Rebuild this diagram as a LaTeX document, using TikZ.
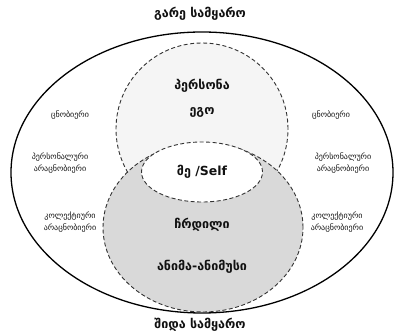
\documentclass[tikz,border=0pt]{standalone}
\usepackage{fontspec}
\setmainfont{DejaVu Sans}
\usepackage{xcolor}
\usepackage{tikz}
\usetikzlibrary{positioning,shapes.geometric}
\definecolor{PersonaFill}{HTML}{F5F5F5}
\definecolor{ShadowFill}{HTML}{D9D9D9}
\definecolor{TextDark}{HTML}{111111}

\begin{document}
\begin{tikzpicture}[x=1pt,y=-1pt,
          every node/.style={text=TextDark},
          zone/.style={draw=black!80,dash pattern=on 4pt off 2.5pt,line width=0.9pt,inner sep=0pt},
          main/.style={font=\fontsize{12.5}{14}\selectfont\bfseries},
          side/.style={font=\fontsize{8}{12}\selectfont,align=center}]
        \useasboundingbox (0,0) rectangle (396,336);
        \node[ellipse, draw, line width=1.3pt, minimum width=382pt, minimum height=281pt,
          inner sep=0pt] (world) at (202,172.5) {};
        \node[circle, zone, fill=PersonaFill, minimum size=172pt] (persona) at (202,129) {};
        % side labels
        \node[side] (lcon) at (70,115) {ცნობიერი};
        \node[side] (lpers) at (60,163.5) {პერსონალური\\არაცნობიერი};
        \node[side] (lcol) at (70,222) {კოლექტიური\\არაცნობიერი};
        \node[side] (rcon) at (331,115) {ცნობიერი};
        \node[side] (rpers) at (343,163.5) {პერსონალური\\არაცნობიერი};
        \node[side] (rcol) at (337,222) {კოლექტიური\\არაცნობიერი};
        \node[ellipse, zone, fill=ShadowFill, minimum width=200pt, minimum height=169pt]
          (shadow) at (203,227.5) {};
        \node[ellipse, zone, fill=white, minimum width=121pt, minimum height=60pt]
          (self) at (202,172) {};
        % texts
        \node[main] (outer) at (200,14) {გარე სამყარო};
        \node[main] (inner) at (200,325) {შიდა სამყარო};
        \node[main] (plabel) at (202,86) {პერსონა};
        \node[main] (ego) at (202,112) {ეგო};
        \node[main] (slabel) at (self.center) {მე /Self};
        \node[main] (shlabel) at (202,225) {ჩრდილი};
        \node[main] (anima) at (202,267) {ანიმა-ანიმუსი};
      \end{tikzpicture}
\end{document}
